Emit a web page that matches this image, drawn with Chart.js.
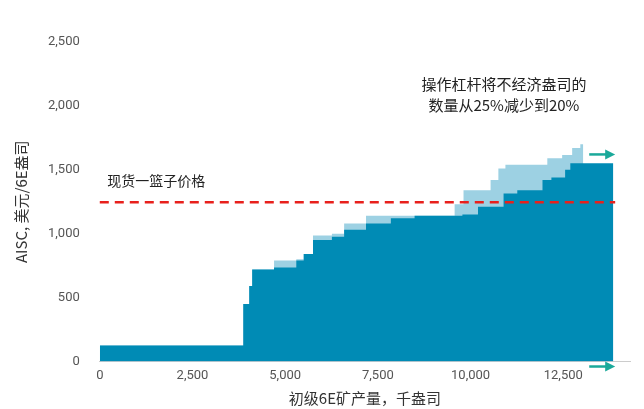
<!DOCTYPE html>
<html><head><meta charset="utf-8">
<script src="https://cdn.jsdelivr.net/npm/chart.js@4/dist/chart.umd.min.js"></script>
<style>html,body{margin:0;background:#fff}#wrap{width:644px;height:409px}</style>
</head><body><div id="wrap"><canvas id="c"></canvas></div>
<script>
// [production (k oz), AISC] step starts
const baseSteps = [[0,125],[3870,450],[4030,590],[4110,720],[4700,735],[5300,790],[5500,840],[5750,950],[6260,975],[6590,1030],[7180,1080],[7850,1120],[8490,1140],[9780,1150],[10200,1210],[10890,1315],[11260,1340],[11940,1420],[12180,1440],[12550,1500],[12690,1550],[13850,1550]];
const leverSteps = [[0,125],[3870,450],[4030,590],[4110,720],[4700,790],[5300,800],[5500,840],[5750,985],[6260,1000],[6590,1080],[7180,1140],[8490,1140],[9570,1230],[9810,1340],[10540,1420],[10750,1510],[10940,1540],[12070,1590],[12470,1615],[12740,1670],[12960,1700],[13040,1700]];
const spotPrice = 1245;
const yTicks = [0,500,1000,1500,2000,2500];
const xTicks = [0,2500,5000,7500,10000,12500];
const spotLabel = "现货一篮子价格";
const noteLines = ["操作杠杆将不经济盎司的","数量从25%减少到20%"];

// each value holds until the next x
const toPts = s => s.flatMap(([x,y], i) => {
  const nx = i + 1 < s.length ? s[i + 1][0] : x;
  return [{x, y}, {x: nx, y}];
});
const cjk = "'Noto Sans CJK SC', serif";

const extras = {
  id: "extras",
  afterDatasetsDraw(chart) {
    const {ctx, scales:{x,y}} = chart;
    ctx.save();
    ctx.strokeStyle = "#e8201c"; ctx.lineWidth = 2.5; ctx.setLineDash([9,6]);
    ctx.beginPath(); ctx.moveTo(x.getPixelForValue(0), y.getPixelForValue(spotPrice));
    ctx.lineTo(x.getPixelForValue(13900), y.getPixelForValue(spotPrice)); ctx.stroke();
    ctx.setLineDash([]);
    ctx.fillStyle = "#222"; ctx.font = "14px " + cjk; ctx.textAlign = "left";
    ctx.fillText(spotLabel, x.getPixelForValue(200), y.getPixelForValue(spotPrice) - 16);
    ctx.textAlign = "center"; ctx.font = "15px " + cjk;
    ctx.fillText(noteLines[0], x.getPixelForValue(10900), 90);
    ctx.fillText(noteLines[1], x.getPixelForValue(10900), 111);
    const arrow = (px, py) => {
      ctx.strokeStyle = "#1aa99a"; ctx.fillStyle = "#1aa99a"; ctx.lineWidth = 2.5;
      ctx.beginPath(); ctx.moveTo(px, py); ctx.lineTo(px + 18, py); ctx.stroke();
      ctx.beginPath(); ctx.moveTo(px + 26, py); ctx.lineTo(px + 16, py - 5); ctx.lineTo(px + 16, py + 5); ctx.closePath(); ctx.fill();
    };
    arrow(x.getPixelForValue(13200), y.getPixelForValue(1620));
    arrow(x.getPixelForValue(13200), y.getPixelForValue(-40));
    ctx.restore();
  }
};

new Chart(document.getElementById("c"), {
  type: "line",
  data: { datasets: [
    { data: toPts(baseSteps), fill: "origin", backgroundColor: "#008bb5", borderWidth: 0, pointRadius: 0, order: 1 },
    { data: toPts(leverSteps), fill: "origin", backgroundColor: "#9dd1e3", borderWidth: 0, pointRadius: 0, order: 2 }
  ]},
  options: {
    responsive: true, maintainAspectRatio: false, animation: false,
    layout: { padding: { top: 42, right: 14, left: 8, bottom: 0 } },
    plugins: { legend: { display: false }, tooltip: { enabled: false } },
    scales: {
      x: { type: "linear", min: 0, max: 14300,
        afterBuildTicks: s => { s.ticks = xTicks.map(v => ({value:v})); },
        grid: { display: false, tickLength: 4 }, border: { color: "#ccc" },
        ticks: { color: "#555", font: { size: 13, family: "Roboto" }, padding: 3 },
        title: { display: true, text: "初级6E矿产量，千盎司", color: "#333", font: { size: 15, family: cjk }, padding: { top: 2, bottom: 2 } } },
      y: { min: 0, max: 2500,
        afterBuildTicks: s => { s.ticks = yTicks.map(v => ({value:v})); },
        grid: { display: false }, border: { display: false },
        ticks: { color: "#555", font: { size: 13, family: "Roboto" }, padding: 12 },
        title: { display: true, text: "AISC, 美元/6E盎司", color: "#333", font: { size: 15, family: cjk }, padding: { bottom: 6 } } }
    }
  },
  plugins: [extras]
});
</script></body></html>
